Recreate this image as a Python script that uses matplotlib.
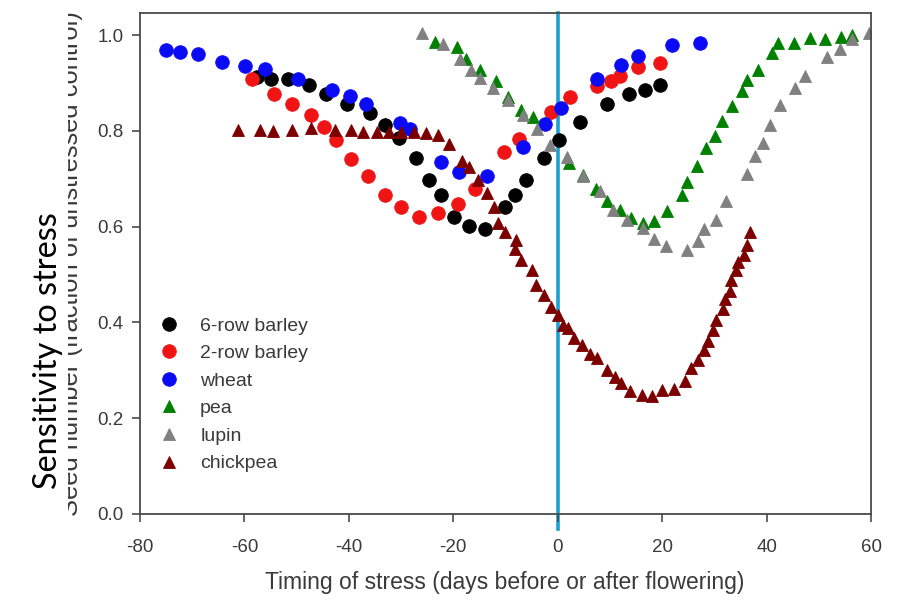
import matplotlib
matplotlib.use("Agg")
import matplotlib.pyplot as plt
from matplotlib.patches import Rectangle
from matplotlib import font_manager as fm

# ---------------- data ----------------
barley6_x = [-57.6, -54.9, -51.7, -47.6, -44.4, -40.4, -35.9, -33.1, -30.4, -27.2, -24.6, -22.4,
             -19.8, -16.9, -14.0, -10.1, -8.2, -6.0, -2.7, 0.3, 4.3, 9.4, 13.7, 16.7, 19.6]
barley6_y = [0.913, 0.908, 0.908, 0.896, 0.877, 0.856, 0.837, 0.813, 0.786, 0.743, 0.698, 0.666,
             0.621, 0.602, 0.596, 0.641, 0.666, 0.698, 0.743, 0.780, 0.819, 0.857, 0.877, 0.885, 0.896]

barley2_x = [-58.6, -54.3, -50.8, -47.3, -44.8, -42.5, -39.6, -36.4, -33.1, -30.1, -26.6, -22.9,
             -19.1, -15.8, -10.3, -7.4, -1.3, 2.4, 7.5, 10.2, 12.0, 15.3, 19.6]
barley2_y = [0.908, 0.876, 0.855, 0.832, 0.807, 0.780, 0.742, 0.705, 0.665, 0.641, 0.621, 0.628,
             0.647, 0.679, 0.755, 0.783, 0.839, 0.871, 0.894, 0.903, 0.914, 0.933, 0.941]

wheat_x = [-75.1, -72.3, -68.9, -64.3, -59.9, -56.1, -49.7, -43.2, -39.8, -36.8, -30.2, -28.3,
           -22.4, -19.0, -13.6, -6.6, -2.4, 0.65, 7.6, 12.1, 15.4, 21.9, 27.3]
wheat_y = [0.968, 0.965, 0.961, 0.944, 0.935, 0.929, 0.909, 0.885, 0.872, 0.855, 0.816, 0.804,
           0.734, 0.715, 0.705, 0.766, 0.815, 0.848, 0.908, 0.937, 0.957, 0.980, 0.984]

pea_x = [-23.5, -19.2, -17.5, -14.9, -11.8, -9.6, -7.1, -4.7, 2.2, 4.9, 7.4, 9.5, 12.0, 14.1,
         16.4, 18.5, 21.0, 23.8, 24.8, 26.7, 28.4, 30.1, 31.4, 33.4, 35.3, 36.2, 38.3, 41.0,
         42.1, 45.2, 48.4, 51.1, 54.2, 56.3]
pea_y = [0.985, 0.975, 0.950, 0.928, 0.905, 0.871, 0.844, 0.829, 0.733, 0.708, 0.679, 0.653,
         0.635, 0.618, 0.607, 0.611, 0.632, 0.667, 0.694, 0.727, 0.764, 0.790, 0.820, 0.851,
         0.883, 0.907, 0.928, 0.963, 0.984, 0.984, 0.994, 0.992, 0.995, 1.001]

lupin_x = [-26.0, -22.0, -18.8, -16.6, -14.9, -12.3, -9.6, -6.7, -4.0, -1.4, 1.7, 4.9, 8.1,
           10.5, 13.2, 16.4, 18.4, 20.8, 24.8, 26.8, 28.0, 30.4, 32.3, 36.2, 37.8, 39.4, 40.6,
           42.6, 45.5, 47.4, 51.6, 54.0, 56.3, 59.7]
lupin_y = [1.005, 0.982, 0.950, 0.928, 0.910, 0.890, 0.865, 0.834, 0.803, 0.771, 0.746, 0.706,
           0.674, 0.634, 0.613, 0.597, 0.575, 0.560, 0.551, 0.570, 0.595, 0.614, 0.654, 0.710,
           0.748, 0.775, 0.813, 0.853, 0.890, 0.915, 0.954, 0.971, 0.991, 1.005]

chickpea_x = [-61.2, -57.1, -54.6, -50.8, -47.2, -42.6, -39.5, -37.2, -34.7, -32.3, -30.1, -27.6,
              -25.2, -23.0, -20.8, -18.4, -16.9, -15.3, -13.6, -12.2, -11.4, -10.0, -7.9, -8.1,
              -7.0, -5.0, -4.2, -2.7, -1.3, 0.1, 1.1, 2.0, 3.1, 4.6, 6.1, 7.5, 9.4, 10.9, 12.2,
              13.9, 16.2, 18.0, 20.0, 22.3, 24.4, 25.6, 26.9, 28.0, 28.8, 29.8, 30.4, 31.6, 32.1,
              33.0, 33.2, 34.2, 34.6, 35.6, 36.2, 36.9]
chickpea_y = [0.802, 0.802, 0.799, 0.802, 0.806, 0.802, 0.801, 0.797, 0.797, 0.797, 0.797, 0.797,
              0.796, 0.791, 0.773, 0.738, 0.724, 0.698, 0.670, 0.642, 0.607, 0.588, 0.572, 0.554,
              0.531, 0.509, 0.479, 0.458, 0.432, 0.416, 0.395, 0.388, 0.367, 0.353, 0.335, 0.325,
              0.300, 0.286, 0.274, 0.257, 0.248, 0.247, 0.259, 0.262, 0.278, 0.304, 0.322, 0.343,
              0.361, 0.385, 0.406, 0.427, 0.448, 0.465, 0.489, 0.510, 0.527, 0.541, 0.562, 0.589]

series_names = ["6-row barley", "2-row barley", "wheat", "pea", "lupin", "chickpea"]
x_ticks = [-80, -60, -40, -20, 0, 20, 40, 60]
y_ticks = [0.0, 0.2, 0.4, 0.6, 0.8, 1.0]
flowering_day = 0

# ---------------- fonts ----------------
def have(name):
    try:
        fm.findfont(fm.FontProperties(family=name), fallback_to_default=False)
        return True
    except Exception:
        return False

arial = ["Liberation Sans", "DejaVu Sans"] if have("Liberation Sans") else ["DejaVu Sans"]
calib = ["Lato", "DejaVu Sans"] if have("Lato") else ["DejaVu Sans"]
plt.rcParams["font.family"] = arial

W, H, DPI = 899, 603, 100
fig = plt.figure(figsize=(W / DPI, H / DPI), dpi=DPI)
ax = fig.add_axes([140 / W, 1 - 514 / H, 731 / W, 501 / H])

txt_col = "#3a3a3a"
spine_col = "#4a4a4a"

series = [
    (barley6_x, barley6_y, "o", "#000000", 9.8),
    (barley2_x, barley2_y, "o", "#f01414", 9.8),
    (wheat_x, wheat_y, "o", "#0a0af5", 9.8),
    (pea_x, pea_y, "^", "#008000", 9.0),
    (lupin_x, lupin_y, "^", "#808080", 9.0),
    (chickpea_x, chickpea_y, "^", "#7d0000", 9.0),
]
for (xs, ys, mk, col, ms), name in zip(series, series_names):
    ax.plot(xs, ys, linestyle="none", marker=mk, color=col, markersize=ms,
            markeredgewidth=0.6, markeredgecolor=col, label=name)

ax.set_xlim(-80, 60)
ax.set_ylim(0, 1.046)
ax.set_xticks(x_ticks)
ax.set_xticklabels([str(t) for t in x_ticks])
ax.set_yticks(y_ticks)
ax.set_yticklabels([f"{t:.1f}" for t in y_ticks])
ax.tick_params(axis="both", direction="out", length=6, width=1.2, color=spine_col,
               labelsize=13.5, labelcolor=txt_col)
ax.tick_params(axis="y", pad=6)
ax.tick_params(axis="x", pad=12)
for s in ax.spines.values():
    s.set_color(spine_col)
    s.set_linewidth(1.3)

# vertical flowering line
ax.plot([flowering_day, flowering_day], [-0.03, 1.0], transform=ax.get_xaxis_transform(),
        color="#1aa0d2", linewidth=2.6, clip_on=False, zorder=1)

leg = ax.legend(loc="upper left", bbox_to_anchor=(0.0264, 0.393), frameon=False,
                borderaxespad=0, borderpad=0, handlelength=1.0, handletextpad=1.1,
                labelspacing=0.51, numpoints=1, fontsize=14)
for t in leg.get_texts():
    t.set_color(txt_col)

fig.canvas.draw()
r = fig.canvas.get_renderer()

def fit(text_obj, target_px, axis):
    for _ in range(3):
        bb = text_obj.get_window_extent(r)
        cur = bb.width if axis == "w" else bb.height
        text_obj.set_fontsize(text_obj.get_fontsize() * target_px / cur)
        fig.canvas.draw()

xl = fig.text(505 / W, 1 - 583 / H, "Timing of stress (days before or after flowering)",
              ha="center", va="center", fontsize=16.5, color=txt_col)
fit(xl, 480, "w")

# original axis title, partly hidden behind the overlaid label box
yl = fig.text(83 / W, 1 - 264 / H, "Seed number (fraction of unstressed control)",
              ha="right", va="center", rotation=90, fontsize=17.5, color=txt_col)
fit(yl, 505, "h")

fig.patches.append(Rectangle((0, 0), 68 / W, 1, transform=fig.transFigure,
                             facecolor="white", edgecolor="none", zorder=5))

sl = fig.text(48 / W, 1 - 351 / H, "Sensitivity to stress", ha="center", va="center",
              rotation=90, fontsize=19, color="black", family=calib, zorder=6)
fit(sl, 277, "h")

fig.savefig("out.png", dpi=DPI)
